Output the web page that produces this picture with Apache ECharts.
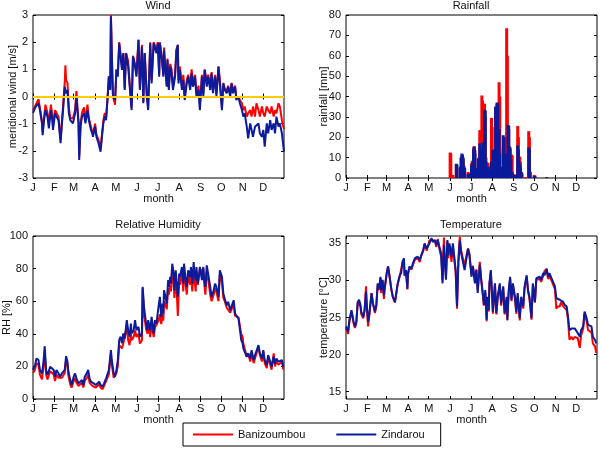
<!DOCTYPE html>
<html><head><meta charset="utf-8">
<script src="https://cdn.jsdelivr.net/npm/echarts@6/dist/echarts.min.js"></script>
<style>html,body{margin:0;padding:0;background:#fff}#c{width:600px;height:450px}</style>
</head><body><div id="c"></div>
<script>
// Month ticks (day of year) and labels
const monthTicks = [1,32,60,91,121,152,182,213,244,274,305,335];
const monthLabels = ['J','F','M','A','M','J','J','A','S','O','N','D'];

// ---------- Wind (meridional wind, m/s) ----------
const windDays = [1,5,9,11,14,15,17,19,22,24,27,29,30,
  33,35,38,41,43,45,47,48,49,51,53,55,57,59,
  62,64,65,67,68,70,72,75,77,80,82,85,87,88,
  91,93,96,99,101,103,105,107,109,111,113,114,116,117,120,
  122,124,126,127,130,132,134,136,139,142,144,146,149,151,
  154,156,159,161,163,166,168,171,173,176,180,
  182,184,185,188,190,191,193,195,196,198,200,202,204,207,209,211,212,
  214,217,219,221,224,226,229,231,233,236,238,241,243,
  246,248,250,253,255,258,260,262,265,267,270,272,
  275,277,279,282,284,287,289,291,294,296,299,301,304,
  306,308,311,313,316,318,320,323,325,328,330,333,
  335,337,340,342,345,347,350,352,354,357,359,362,363,365];
const windBani = [-0.5,-0.3,-0.1,-0.4,-0.9,-1.3,-0.8,-0.3,-0.6,-1.0,-0.3,-0.7,-1.1,
  -0.5,-0.6,-0.75,-1.6,-0.9,-0.2,0.5,1.15,0.6,0.5,-0.4,-0.8,-0.85,-0.8,
  -0.5,0.2,-0.2,-0.9,-2.2,-1.0,-0.6,-0.4,-0.9,-0.3,-0.8,-1.1,-1.3,-1.4,
  -1.0,-1.4,-1.6,-1.9,-1.4,-0.9,-0.6,-0.75,-0.1,0.75,0.3,3.0,0.9,0.0,-0.3,
  1.0,0.8,2.0,1.8,1.1,1.6,0.3,1.6,1.3,0.2,-0.4,1.5,1.2,0.8,
  2.1,0.3,1.9,-0.2,1.6,0.1,-0.4,2.0,0.6,2.0,1.7,
  2.0,0.8,2.0,1.4,0.8,1.8,1.0,0.4,1.4,0.3,1.2,1.0,0.4,0.8,1.7,1.9,0.6,
  1.1,0.4,0.8,0.0,0.6,0.8,0.4,1.0,0.5,0.8,0.1,0.4,-0.3,
  0.8,0.1,1.0,0.5,0.8,0.4,0.9,0.2,0.8,0.1,1.1,0.6,
  -0.4,0.5,0.3,0.2,0.4,0.1,0.5,0.2,0.4,-0.1,0.0,-0.13,-0.25,
  -0.5,-0.37,-0.74,-0.62,-0.5,-0.74,-0.37,-0.74,-0.25,-0.5,-0.74,-0.37,
  -0.62,-0.74,-0.37,-0.5,-0.62,-0.37,-0.74,-0.5,-0.62,-0.25,-0.37,-0.87,-1.0,-1.2];
const windZind = [-0.6,-0.37,-0.25,-0.5,-0.99,-1.42,-0.87,-0.5,-0.74,-1.17,-0.5,-0.87,-1.23,
  -0.62,-0.74,-0.87,-1.72,-0.99,-0.37,0.36,0.2,0.12,0.24,-0.62,-0.87,-0.93,-0.99,
  -0.62,-0.01,-0.37,-0.99,-2.34,-1.1,-0.74,-0.62,-0.99,-0.5,-0.87,-1.23,-1.36,-1.48,
  -1.1,-1.48,-1.72,-2.03,-1.48,-0.99,-0.74,-0.87,-0.13,0.73,0.24,2.94,0.85,-0.01,-0.13,
  0.98,0.73,1.96,1.71,0.98,1.59,0.24,1.59,1.1,0.12,-0.5,1.47,1.1,0.73,
  2.08,0.24,1.83,-0.25,1.59,0.0,-0.5,1.96,0.48,1.96,1.59,
  1.96,0.73,1.96,1.34,0.73,1.71,0.98,0.36,1.34,0.24,1.1,0.85,0.24,0.73,1.71,1.9,0.48,
  0.98,0.24,0.61,-0.13,0.48,0.73,0.24,0.85,0.36,0.73,0.0,0.24,-0.5,
  0.73,0.0,0.98,0.36,0.73,0.24,0.85,0.12,0.73,0.0,1.1,0.48,
  -0.5,0.48,0.24,0.12,0.36,0.0,0.48,0.12,0.36,-0.13,0.0,-0.25,-0.5,
  -0.74,-0.62,-1.11,-1.54,-0.99,-1.23,-1.48,-1.11,-1.11,-0.99,-1.36,-1.48,
  -1.23,-1.85,-0.99,-1.36,-0.87,-1.23,-0.99,-1.36,-0.74,-1.11,-0.99,-1.36,-1.6,-2.03];

// ---------- Rainfall (mm) ----------
const rainDays = [152,153,156,157,161,162,167,168,169,170,171,172,173,178,179,
  183,184,186,187,188,189,192,193,194,195,196,198,199,200,201,202,203,204,205,207,208,
  212,213,214,215,216,218,219,220,221,222,223,224,225,226,229,230,231,233,234,235,
  236,237,238,239,240,241,242,244,247,249,250,251,252,253,254,255,256,262,266,267,268,274,275,292];
const rainBani = [12.5,12,1.5,0.5,6.5,5,5,10,11,8,9,5,4.5,3,2.5,
  7,8.5,15,15.5,12,4,4,9,10,23.5,22,40.5,38,18.5,13,36.5,30,10,2,7.5,6,
  29.5,25,12,10,4,35,34,37,35,20,47,40,5,2,15,20,10,20,73.5,60,
  26,24,15,14,8,11.5,11,2,1.5,2,25.5,20,10,10.5,8,3,2.5,0.5,23,20,3,1.5,1.2,0];
const rainZind = [0,0,0,0,7,6.5,5.5,10,12,11.5,10,6,5,2,2,
  6,7.5,14,15.5,13.5,5,4.5,9.5,10,17,15,12,13.5,17.5,14,33.5,33,8,2,5.5,4,
  8,7.5,13.5,14,3,35,34,36.5,37,22,24,12,5.5,2,21,20,12,2,12,8,
  26,25.5,15.5,15,9,3,3,1,1.5,1.5,16,14,8,6.5,5,3,2,0,15,14.5,3,1,0.8,0.5];

// ---------- Relative humidity (%) ----------
const rhDays = [1,4,6,9,11,14,16,18,20,22,23,26,28,31,
  33,35,38,40,43,45,47,49,51,52,55,57,
  60,62,64,67,69,72,74,76,79,81,83,85,87,89,
  92,94,97,99,102,104,107,109,111,114,115,118,120,
  122,124,126,128,130,132,134,137,139,141,143,144,147,149,151,
  154,156,159,160,162,165,167,168,171,173,176,178,180,
  183,185,187,189,190,191,193,195,197,198,200,201,203,205,206,208,209,211,
  213,214,217,219,220,222,224,226,229,230,232,234,235,237,238,240,242,243,
  246,248,249,251,253,255,258,260,263,265,267,270,272,
  275,277,279,282,284,287,289,292,294,296,299,301,303,
  305,306,308,311,313,316,318,321,323,325,328,330,333,
  335,337,340,342,345,347,350,352,354,357,359,362,364];
const rhBani = [16,18,22,21,15,12,19,28,15,12,11,17,18,15,
  11,15,13,12,13,13,16,24,21,15,9,7,
  11,13,10,8,7,10,7,11,13,15,10,9,8,8,
  7,8,9,7,6,8,11,12,15,28,22,13,12,
  16,20,33,34,31,34,33,44,36,33,40,36,38,42,38,
  40,34,36,68,52,43,40,46,38,46,38,44,44,
  48,52,46,52,48,60,58,55,68,64,70,66,76,72,62,74,70,51,
  72,70,78,66,78,72,64,76,70,76,66,80,74,66,78,70,76,80,
  78,80,72,64,78,74,64,60,64,68,66,60,76,
  72,62,60,56,57,53,54,58,51,50,50,49,40,
  38,34,33,26,28,23,28,22,25,24,32,27,23,
  29,22,19,26,21,18,28,20,23,21,20,23,18];
const rhZind = [17.8,20.8,24.9,23.9,17.8,15.7,21.8,32.4,17.8,14.7,13.7,19.8,20.8,17.8,
  13.7,17.8,15.7,13.7,15.7,14.7,17.8,26.3,22.9,17.8,11.6,8.6,
  13.7,15.7,12.7,9.6,8.6,11.6,8.6,13.7,15.7,17.8,12.7,10.6,9.6,9.6,
  8.6,9.2,10.6,8.6,7.6,9.6,12.7,13.7,17.8,30,24.9,15.7,13.7,
  17.8,23.9,36.1,38.2,34.1,40.2,37.1,48.4,42.2,38.2,46.3,40.2,42.2,48.4,42.2,
  44.3,38.2,40.2,68.8,56.5,46.3,42.2,48.4,42.2,50.4,40.2,48.4,46.3,
  56.5,62.7,50.4,58.6,52.4,66.7,62.7,58.6,72.9,68.8,74.9,70.8,83,76.9,66.7,79,72.9,62.7,
  76.9,74.9,81,70.8,83,74.9,68.8,79,74.9,81,70.8,84,76.9,72.9,81,70.8,76.9,81,
  72.9,81,74.9,68.8,82,76.9,68.8,62.7,66.7,70.8,68.8,62.7,79,
  74.9,64.7,61.6,57.5,59.6,54.5,55.5,60.6,52.4,51.4,49.4,48.4,36.1,
  34.1,31,30,25.9,28,24.9,30,23.9,26.9,25.9,33.1,28,24.9,
  30,23.9,20.8,26.9,22.9,19.8,25.9,21.8,24.9,22.9,21.8,23.9,19.8];

// ---------- Temperature (deg C) ----------
const tempDays = [1,4,6,9,10,12,14,16,18,20,22,23,26,28,30,
  31,33,35,38,40,43,45,47,49,51,52,54,56,57,
  60,62,64,67,69,72,74,76,79,81,83,85,86,88,90,
  91,93,96,98,101,103,105,108,110,113,115,118,120,
  122,125,127,130,132,134,137,139,141,143,144,146,148,149,151,
  154,156,159,160,162,164,166,168,171,173,176,178,180,
  183,185,188,190,192,195,197,200,201,203,205,206,208,209,211,
  213,214,217,219,221,224,226,229,231,234,235,237,239,241,243,
  246,248,250,253,255,258,260,263,265,267,270,272,
  275,277,279,282,284,287,289,292,294,296,299,301,304,
  306,308,311,313,316,318,321,323,325,328,330,333,
  335,337,340,342,345,347,350,352,354,357,359,362,364];
const tempBani = [23.6,22.8,24.5,25.8,26.0,24.2,23.6,24.3,27.0,27.2,26.5,25.5,24.9,26.0,29.2,
  26.8,23.8,25.4,28.3,27.0,25.6,26.5,29.5,28.7,30.3,28.3,30.0,27.5,28.8,
  30.9,31.9,30.6,28.6,27.7,27.0,26.8,29.5,30.6,30.8,32.4,32.8,30.6,31.2,28.8,
  30.8,31.7,31.5,32.1,32.8,32.6,33.0,32.5,33.3,34.0,34.9,34.0,33.9,
  35.4,35.5,35.5,35.3,34.5,35.6,34.3,33.8,30.0,35.8,33.5,30.5,35.3,33.0,34.7,
  32.5,34.6,32.0,31.2,26.2,33.0,35.9,34.0,32.8,32.0,33.5,34.3,33.6,
  30.8,32.0,29.8,31.5,28.7,32.5,30.3,27.4,26.6,28.3,24.5,27.5,25.8,29.5,31.2,
  27.6,25.5,29.5,25.4,27.6,29.4,26.6,29.0,25.4,27.5,24.6,28.5,30.3,27.2,29.4,
  27.5,25.5,28.0,24.6,27.5,26.2,29.0,30.5,28.5,27.6,24.7,29.4,
  27.0,30.1,29.9,30.2,29.8,30.6,31.3,31.5,30.2,30.6,30.0,29.8,28.8,
  26.2,26.5,26.5,27.1,26.5,26.3,26.0,24.7,22.0,22.4,22.0,22.4,
  22.4,22.2,20.9,22.6,23.5,25.6,24.5,23.3,23.3,23.0,21.5,21.1,20.2];
const tempZind = [23.8,23.1,24.7,26.0,26.2,24.4,23.8,24.4,27.1,27.4,26.7,25.8,25.1,26.0,28.5,
  26.9,24.4,25.6,28.3,26.9,25.8,26.7,29.6,28.9,30.5,28.7,30.1,28.0,28.9,
  31.0,31.9,30.7,28.7,27.8,27.1,26.9,29.6,30.7,31.0,32.5,33.0,30.7,31.4,28.9,
  31.0,31.9,31.6,32.3,33.0,32.75,33.2,32.75,33.4,34.1,35.0,34.3,34.1,
  35.0,35.7,35.2,35.45,34.8,35.45,34.1,33.2,29.6,34.8,33.0,30.1,35.45,33.4,35.0,
  33.2,35.0,32.3,31.4,26.5,32.3,35.4,33.65,32.3,31.4,33.2,34.3,33.4,
  30.5,31.9,29.6,31.4,28.3,32.1,30.1,27.8,26.7,28.7,24.7,27.8,26.0,29.6,31.4,
  27.8,25.8,29.6,25.6,27.8,29.6,26.9,29.2,25.6,27.8,24.7,28.7,30.5,27.4,29.6,
  27.8,25.8,28.3,24.9,27.8,26.5,29.2,30.7,28.7,27.8,24.9,29.6,
  27.1,30.3,30.1,30.5,30.1,31.0,30.7,31.6,30.5,31.0,30.3,30.1,29.2,
  27.6,27.8,27.4,27.6,27.1,26.7,26.5,25.1,23.3,23.5,23.3,23.5,
  23.3,22.9,22.4,23.3,23.8,25.8,24.9,24.0,23.8,23.8,22.4,22.0,21.5];

// Axis tick labels
const windTicks = [-3,-2,-1,0,1,2,3];
const rainTicks = [0,10,20,30,40,50,60,70,80];
const rhTicks = [0,20,40,60,80,100];
const tempTicks = [15,20,25,30,35];

const RED = '#ff0000', BLUE = '#0b1b9c';
const FONT = 'Liberation Sans, Arial, Helvetica, sans-serif';
const zip = (a, b) => a.map((d, i) => [d, b[i]]);

const grids = [
  {left: 33, top: 15, width: 251, height: 163},
  {left: 346, top: 15, width: 251, height: 163},
  {left: 33, top: 236, width: 251, height: 163},
  {left: 346, top: 236, width: 251, height: 163}
].map(g => Object.assign({show: true, borderColor: '#000', borderWidth: 1, backgroundColor: '#fff',
  containLabel: false, outerBoundsMode: 'none'}, g));

const yCfg = [
  {min: -3, max: 3, ticks: windTicks, name: 'meridional wind [m/s]', gap: 15},
  {min: 0, max: 80, ticks: rainTicks, name: 'rainfall [mm]', gap: 17},
  {min: 0, max: 100, ticks: rhTicks, name: 'RH [%]', gap: 21},
  {min: 14, max: 36, ticks: tempTicks, name: 'temperature [°C]', gap: 17}
];

const txt = {fontFamily: FONT, fontSize: 11, color: '#111'};
const xAxes = [], yAxes = [];
for (let i = 0; i < 4; i++) {
  xAxes.push({
    type: 'value', gridIndex: i, min: 1, max: 365, position: 'bottom',
    axisLine: {show: false}, splitLine: {show: false},
    axisTick: {show: true, inside: true, length: 3, customValues: monthTicks, lineStyle: {color: '#000'}},
    axisLabel: Object.assign({customValues: monthTicks, margin: 4,
      formatter: v => monthLabels[monthTicks.indexOf(v)] || ''}, txt),
    name: 'month', nameLocation: 'middle', nameGap: 15, nameTextStyle: txt, nameMoveOverlap: false
  });
}
for (let i = 0; i < 4; i++) {
  xAxes.push({
    type: 'value', gridIndex: i, min: 1, max: 365, position: 'top',
    axisLine: {show: false}, splitLine: {show: false},
    axisTick: {show: true, inside: true, length: 3, customValues: monthTicks, lineStyle: {color: '#000'}},
    axisLabel: {show: false}
  });
}
for (let i = 0; i < 4; i++) {
  const c = yCfg[i];
  yAxes.push({
    type: 'value', gridIndex: i, min: c.min, max: c.max, position: 'left',
    axisLine: {show: false}, splitLine: {show: false},
    axisTick: {show: true, inside: true, length: 3, customValues: c.ticks, lineStyle: {color: '#000'}},
    axisLabel: Object.assign({customValues: c.ticks, margin: 5}, txt),
    name: c.name, nameLocation: 'middle', nameGap: c.gap, nameTextStyle: txt, nameMoveOverlap: false
  });
}
for (let i = 0; i < 4; i++) {
  const c = yCfg[i];
  yAxes.push({
    type: 'value', gridIndex: i, min: c.min, max: c.max, position: 'right',
    axisLine: {show: false}, splitLine: {show: false},
    axisTick: {show: true, inside: true, length: 3, customValues: c.ticks, lineStyle: {color: '#000'}},
    axisLabel: {show: false}
  });
}

function line(name, idx, days, vals, color, z, extra) {
  return Object.assign({
    name, type: 'line', xAxisIndex: idx, yAxisIndex: idx, data: zip(days, vals),
    symbol: 'none', showSymbol: false, z,
    lineStyle: {color, width: 2}, itemStyle: {color}, animation: false, silent: true
  }, extra || {});
}

const series = [
  line('Banizoumbou', 0, windDays, windBani, RED, 2),
  line('Zindarou', 0, windDays, windZind, BLUE, 3, {
    markLine: {silent: true, symbol: ['none', 'none'], label: {show: false}, z: 6,
      lineStyle: {color: '#ffcc00', width: 2, type: 'solid'}, data: [{yAxis: 0}]}
  }),
  {name: 'Banizoumbou', type: 'bar', xAxisIndex: 1, yAxisIndex: 1, data: zip(rainDays, rainBani),
    barWidth: 3, barGap: '-100%', itemStyle: {color: RED}, z: 2, animation: false, silent: true},
  {name: 'Zindarou', type: 'bar', xAxisIndex: 1, yAxisIndex: 1, data: zip(rainDays, rainZind),
    barWidth: 3, barGap: '-100%', itemStyle: {color: BLUE}, z: 3, animation: false, silent: true},
  line('Banizoumbou', 2, rhDays, rhBani, RED, 2),
  line('Zindarou', 2, rhDays, rhZind, BLUE, 3),
  line('Banizoumbou', 3, tempDays, tempBani, RED, 2),
  line('Zindarou', 3, tempDays, tempZind, BLUE, 3)
];

const titleStyle = {fontFamily: FONT, fontSize: 11, fontWeight: 'normal', color: '#111'};
const chart = echarts.init(document.getElementById('c'), null, {renderer: 'canvas'});
chart.setOption({
  backgroundColor: '#fff',
  animation: false,
  title: [
    {text: 'Wind', left: 158, top: 0, textAlign: 'center', padding: 0, textStyle: titleStyle},
    {text: 'Rainfall', left: 471, top: 0, textAlign: 'center', padding: 0, textStyle: titleStyle},
    {text: 'Relative Humidity', left: 158, top: 219, textAlign: 'center', padding: 0, textStyle: titleStyle},
    {text: 'Temperature', left: 471, top: 219, textAlign: 'center', padding: 0, textStyle: titleStyle}
  ],
  legend: {
    data: ['Banizoumbou', 'Zindarou'], left: 183, top: 423, orient: 'horizontal',
    icon: 'rect', itemWidth: 40, itemHeight: 2, itemGap: 31,
    padding: [6, 16, 6, 10], borderColor: '#000', borderWidth: 1, backgroundColor: '#fff',
    textStyle: {fontFamily: FONT, fontSize: 11, color: '#111'}, selectedMode: false
  },
  grid: grids,
  xAxis: xAxes,
  yAxis: yAxes,
  series
});
</script>
</body></html>
